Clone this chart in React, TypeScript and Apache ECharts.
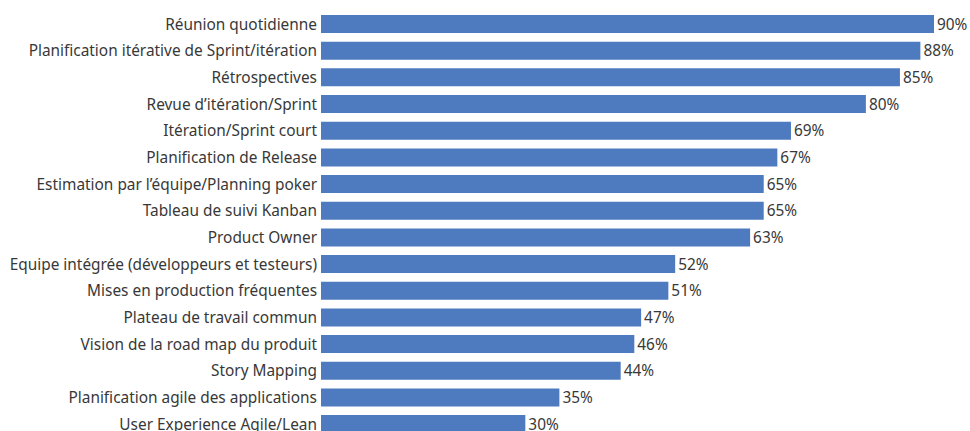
import React, { useEffect, useRef } from "react";
import * as echarts from "echarts";

const categories = [
  "Réunion quotidienne",
  "Planification itérative de Sprint/itération",
  "Rétrospectives",
  "Revue d’itération/Sprint",
  "Itération/Sprint court",
  "Planification de Release",
  "Estimation par l’équipe/Planning poker",
  "Tableau de suivi Kanban",
  "Product Owner",
  "Equipe intégrée (développeurs et testeurs)",
  "Mises en production fréquentes",
  "Plateau de travail commun",
  "Vision de la road map du produit",
  "Story Mapping",
  "Planification agile des applications",
  "User Experience Agile/Lean",
];

const values = [90, 88, 85, 80, 69, 67, 65, 65, 63, 52, 51, 47, 46, 44, 35, 30];

export default function App() {
  const ref = useRef<HTMLDivElement>(null);
  useEffect(() => {
    if (!ref.current) return;
    const chart = echarts.init(ref.current, undefined, { renderer: "svg" });
    const font = "'Noto Sans', sans-serif";
    chart.setOption({
      animation: false,
      grid: { left: 321, right: 36, top: 10.7, bottom: 0.6, containLabel: false },
      xAxis: {
        type: "value",
        min: 0,
        max: 90,
        show: false,
      },
      yAxis: {
        type: "category",
        data: categories,
        inverse: true,
        axisLine: { show: false },
        axisTick: { show: false },
        splitLine: { show: false },
        axisLabel: {
          color: "#383838",
          fontSize: 15.4,
          fontFamily: font,
          margin: 4,
        },
      },
      series: [
        {
          type: "bar",
          data: values,
          barWidth: 18,
          itemStyle: { color: "#4e7bbf" },
          label: {
            show: true,
            position: "right",
            distance: 3,
            formatter: "{c}%",
            color: "#383838",
            fontSize: 15.4,
            fontFamily: font,
          },
        },
      ],
    });
    return () => chart.dispose();
  }, []);
  return (
    <div style={{ position: "absolute", left: 0, top: 0, width: 970, height: 431, overflow: "hidden" }}>
      <div ref={ref} style={{ width: 970, height: 438 }} />
    </div>
  );
}
